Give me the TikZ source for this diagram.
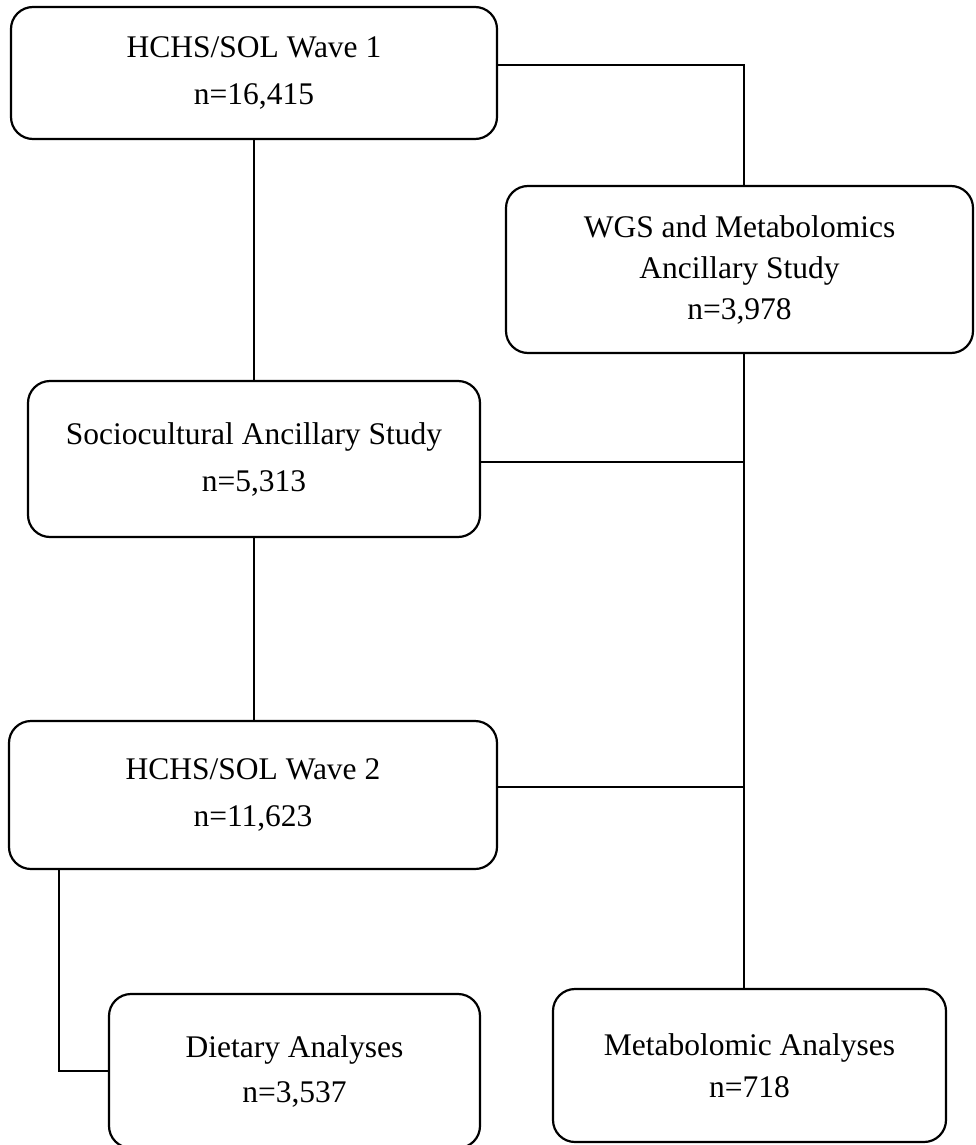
\documentclass[tikz,border=0pt]{standalone}
\usepackage{fontspec}
\setmainfont{Liberation Serif}
\begin{document}
\begin{tikzpicture}[x=1pt,y=-1pt,
  box/.style={draw, line width=2.2pt, rounded corners=22pt, align=center, inner sep=0pt,
    font=\fontsize{31.5}{47}\selectfont},
  link/.style={line width=2pt}]
\clip (0,0) rectangle (975,1145);
\fill[white] (0,0) rectangle (975,1145);
\node[box, minimum width=486pt, minimum height=132pt] (b1) at (254,73) {HCHS/SOL Wave 1\\n=16,415};
\node[box, minimum width=467pt, minimum height=167pt, font=\fontsize{31.5}{41}\selectfont] (b2) at (739.5,269.5) {WGS and Metabolomics\\Ancillary Study\\n=3,978};
\node[box, minimum width=452pt, minimum height=156pt] (b3) at (254,459) {Sociocultural Ancillary Study\\n=5,313};
\node[box, minimum width=488pt, minimum height=148pt] (b4) at (253,795) {HCHS/SOL Wave 2\\n=11,623};
\node[box, minimum width=371pt, minimum height=154pt, font=\fontsize{31.5}{45}\selectfont] (b5) at (294.5,1071) {Dietary Analyses\\n=3,537};
\node[box, minimum width=393pt, minimum height=153pt, font=\fontsize{31.5}{42}\selectfont] (b6) at (749.5,1065.5) {Metabolomic Analyses\\n=718};
\coordinate (spine) at ([xshift=4.5pt]b2.south);
\draw[link] ([yshift=8pt]b1.east) -| (spine |- b2.north);
\draw[link] (b1.south) -- (b1.south |- b3.north);
\draw[link] (spine) -- (spine |- b6.north);
\draw[link] ([yshift=-3pt]b3.east) -- ([yshift=-3pt]b3.east -| spine);
\draw[link] (b3.south) -- (b3.south |- b4.north);
\draw[link] ([yshift=8pt]b4.east) -- ([yshift=8pt]b4.east -| spine);
\draw[link] ([xshift=-194pt]b4.south) |- (b5.west);
\end{tikzpicture}
\end{document}
